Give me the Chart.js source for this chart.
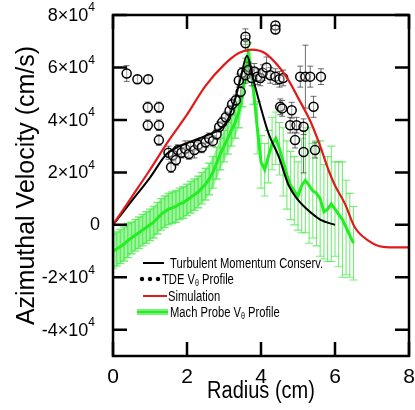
<!DOCTYPE html>
<html>
<head>
<meta charset="utf-8">
<script src="https://cdn.jsdelivr.net/npm/chart.js@4.4.0/dist/chart.umd.min.js"></script>
<style>
  html, body { margin: 0; padding: 0; background: #fff; }
</style>
</head>
<body>
<canvas id="myChart" width="415" height="410"></canvas>
<script>
// Radius in cm, velocities in units of 10^4 cm/s

// Mach probe V_theta profile (with error)
const machRadius = [
  0.0, 0.1, 0.2, 0.3, 0.4, 0.5, 0.6, 0.7, 0.8, 0.9,
  1.0, 1.1, 1.2, 1.3, 1.4, 1.5, 1.6, 1.7, 1.8, 1.9,
  2.0, 2.1, 2.2, 2.3, 2.4, 2.5, 2.6, 2.7, 2.8, 2.9,
  3.0, 3.1, 3.2, 3.3, 3.4,
  3.5, 3.6, 3.65, 3.7, 3.8,
  3.9, 4.0, 4.1, 4.2, 4.3, 4.4, 4.5,
  4.6, 4.7, 4.8, 4.9, 5.0,
  5.1, 5.2, 5.3, 5.4, 5.5, 5.6, 5.7, 5.8, 5.9, 6.0, 6.1, 6.2, 6.3, 6.4, 6.5
];
const machVel = [
  -1.0, -0.92, -0.83, -0.73, -0.6, -0.5, -0.4, -0.3, -0.2, -0.1,
  0.0, 0.1, 0.25, 0.4, 0.5, 0.6, 0.65, 0.7, 0.8, 0.85,
  0.95, 1.05, 1.15, 1.25, 1.4, 1.55, 1.75, 2.0, 2.35, 2.7,
  3.0, 3.3, 3.6, 3.9, 4.3,
  5.0, 5.9, 6.5, 6.2, 5.1,
  3.7, 2.4, 2.1, 2.6, 3.1, 3.3, 2.9,
  2.4, 1.9, 1.5, 1.3, 1.1,
  1.5, 1.7, 1.5, 1.3, 1.2, 1.0, 0.5, 0.6, 0.8, 0.6, 0.4, 0.2, -0.1, -0.4, -0.7
];
const machErr = [
  0.65, 0.65, 0.65, 0.65, 0.65, 0.6, 0.6, 0.6, 0.6, 0.6,
  0.6, 0.6, 0.6, 0.6, 0.6, 0.6, 0.6, 0.6, 0.6, 0.6,
  0.6, 0.6, 0.6, 0.6, 0.6, 0.6, 0.6, 0.6, 0.6, 0.6,
  0.6, 0.6, 0.6, 0.6, 0.6,
  0.5, 0.45, 0.45, 0.45, 0.5,
  1.0, 1.0, 1.0, 1.0, 1.0, 1.0, 1.0,
  1.3, 1.3, 1.3, 1.3, 1.3,
  1.8, 2.0, 2.2, 1.8, 2.0, 2.2, 1.8, 2.0, 2.2, 1.8, 2.0, 2.2, 1.8, 1.6, 1.4
];

// TDE V_theta profile
const tdeRadius = [
  0.37, 0.66, 0.95, 0.94, 1.24, 0.94, 1.24, 1.24,
  1.50, 1.57, 1.62, 1.70, 1.75, 1.85, 1.95, 2.05, 2.10, 2.20, 2.30, 2.40, 2.50, 2.60, 2.70,
  2.80, 2.87, 2.95, 3.05, 3.15, 3.22, 3.32, 3.40, 3.45, 3.49,
  3.58, 3.66, 3.75, 3.82, 3.90, 3.98, 4.05, 4.15, 4.25, 4.39, 4.50, 4.60,
  3.58, 3.58, 4.39, 4.39,
  4.52, 4.57, 4.83, 5.42, 4.79, 4.96, 5.15, 4.92, 5.15, 5.46,
  5.06, 5.20, 5.33, 5.62
];
const tdeVel = [
  5.77, 5.55, 5.55, 4.48, 4.48, 3.80, 3.80, 3.23,
  2.75, 2.20, 2.65, 2.47, 2.85, 2.75, 2.90, 2.70, 3.00, 2.85, 3.05, 2.95, 3.15, 3.30, 3.20,
  3.45, 3.73, 3.90, 4.10, 4.35, 4.60, 4.75, 5.50, 5.07, 5.80,
  5.70, 5.90, 5.60, 5.85, 5.65, 5.60, 5.80, 6.00, 5.70, 5.65, 5.55, 5.60,
  7.17, 6.92, 7.60, 7.45,
  4.50, 4.44, 4.37, 4.50, 3.80, 3.80, 3.74, 3.23, 2.78, 2.85,
  5.65, 5.65, 5.65, 5.65
];
const tdeErr = [
  0.3, 0.15, 0.15, 0.2, 0.2, 0.2, 0.2, 0.2,
  0.25, 0.2, 0.2, 0.2, 0.2, 0.2, 0.3, 0.2, 0.2, 0.3, 0.2, 0.2, 0.2, 0.2, 0.2,
  0.2, 0.2, 0.2, 0.2, 0.2, 0.2, 0.2, 0.25, 0.2, 0.2,
  0.3, 0.3, 0.3, 0.3, 0.3, 0.3, 0.3, 0.4, 0.3, 0.3, 0.3, 0.3,
  0.3, 0.3, 0.15, 0.15,
  0.3, 0.3, 0.3, 0.4, 0.3, 0.3, 0.3, 0.3, 0.8, 0.3,
  0.4, 1.2, 0.4, 0.3
];

// Simulation
const simRadius = [0, 0.5, 1.0, 1.5, 2.0, 2.5, 3.0, 3.4, 3.75, 4.1, 4.5, 4.75, 5.0, 5.35, 5.6, 5.82, 6.0, 6.27, 6.53, 6.9, 7.3, 7.7, 8.0];
const simVel = [0, 1.05, 2.1, 3.2, 4.2, 5.3, 6.1, 6.55, 6.68, 6.55, 6.0, 5.5, 4.85, 3.9, 3.0, 2.1, 1.5, 0.8, -0.08, -0.6, -0.84, -0.86, -0.86];

// Turbulent momentum conservation
const turbRadius = [0, 0.5, 1.0, 1.45, 1.8, 2.15, 2.6, 2.9, 3.1, 3.3, 3.45, 3.62, 3.8, 3.94, 4.2, 4.48, 4.75, 5.0, 5.2, 5.6, 6.0];
const turbVel = [0, 0.9, 1.8, 2.7, 3.0, 3.2, 3.45, 3.65, 4.0, 4.8, 5.6, 6.45, 5.5, 4.75, 3.5, 2.6, 1.5, 0.95, 0.65, 0.2, 0.0];

// Axis ticks
const xTicks = [0, 2, 4, 6, 8];
const yTicks = [-4, -2, 0, 2, 4, 6, 8];

const UNIT = 1e4;
const pts = (xs, ys) => xs.map((x, i) => ({ x: x, y: ys[i] * UNIT }));

// the dense inner part of the Mach probe profile gets a shaded error band
const bandIdx = machRadius.map((r, i) => i).filter(i => machRadius[i] < 3.85);
const bandUpper = bandIdx.map(i => ({ x: machRadius[i], y: (machVel[i] + machErr[i]) * UNIT }));
const bandLower = bandIdx.map(i => ({ x: machRadius[i], y: (machVel[i] - machErr[i]) * UNIT }));

const FONT = '"Liberation Sans", Arial, sans-serif';
Chart.defaults.font.family = FONT;
Chart.defaults.color = '#000';

// vertical error bars with caps, drawn just before the owning dataset
const errorBars = {
  id: 'errorBars',
  beforeDatasetDraw(chart, args) {
    const ds = chart.data.datasets[args.index];
    if (!ds.errors) return;
    const { ctx, chartArea, scales: { x, y } } = chart;
    const cap = ds.errorCap;
    ctx.save();
    ctx.beginPath();
    ctx.rect(chartArea.left, chartArea.top, chartArea.width, chartArea.height);
    ctx.clip();
    ctx.strokeStyle = ds.errorColor;
    ds.data.forEach((p, i) => {
      const e = ds.errors[i] * UNIT;
      const px = x.getPixelForValue(p.x);
      const top = y.getPixelForValue(p.y + e);
      const bot = y.getPixelForValue(p.y - e);
      ctx.lineWidth = ds.errorWidth(p.x);
      ctx.beginPath();
      ctx.moveTo(px, top); ctx.lineTo(px, bot);
      ctx.moveTo(px - cap, top); ctx.lineTo(px + cap, top);
      ctx.moveTo(px - cap, bot); ctx.lineTo(px + cap, bot);
      ctx.stroke();
    });
    ctx.restore();
  }
};

// box frame with inward ticks on all four sides, plus y labels as n x 10^4
const frame = {
  id: 'frame',
  afterDatasetsDraw(chart) {
    const { ctx, chartArea: a, scales: { x, y } } = chart;
    const len = 14;
    ctx.save();
    ctx.strokeStyle = '#000';
    ctx.lineWidth = 2.5;
    ctx.strokeRect(a.left, a.top, a.width, a.height);
    ctx.beginPath();
    xTicks.forEach(v => {
      const px = x.getPixelForValue(v);
      ctx.moveTo(px, a.bottom); ctx.lineTo(px, a.bottom - len);
      ctx.moveTo(px, a.top); ctx.lineTo(px, a.top + len);
    });
    yTicks.forEach(v => {
      const py = y.getPixelForValue(v * UNIT);
      ctx.moveTo(a.left, py); ctx.lineTo(a.left + len, py);
      ctx.moveTo(a.right, py); ctx.lineTo(a.right - len, py);
    });
    ctx.stroke();

    ctx.fillStyle = '#000';
    ctx.textBaseline = 'middle';
    ctx.textAlign = 'right';
    yTicks.forEach(v => {
      const py = y.getPixelForValue(v * UNIT);
      if (v === 0) {
        ctx.font = '18px ' + FONT;
        ctx.fillText('0', a.left - 13, py);
        return;
      }
      ctx.font = '12px ' + FONT;
      ctx.fillText('4', a.left - 18, py - 7);
      const sw = ctx.measureText('4').width;
      ctx.font = '18px ' + FONT;
      ctx.fillText(v + '\u00d710', a.left - 18 - sw, py + 1);
    });
    ctx.restore();
  }
};

// condensed text with an optional subscript piece, e.g. V + theta
function drawRich(ctx, parts, x, y, size, squeeze) {
  ctx.save();
  ctx.translate(x, y);
  ctx.scale(squeeze, 1);
  let cx = 0;
  parts.forEach(([txt, sub]) => {
    ctx.font = (sub ? Math.round(size * 0.62) : size) + 'px ' + FONT;
    ctx.fillText(txt, cx, sub ? size * 0.25 : 0);
    cx += ctx.measureText(txt).width;
  });
  ctx.restore();
}

// legend inside the plot and the x axis title
const insideLegend = {
  id: 'insideLegend',
  afterDraw(chart) {
    const { ctx, chartArea: a } = chart;
    const x0 = a.left + 27;
    const rows = [a.top + 248, a.top + 264, a.top + 281, a.top + 297];
    ctx.save();
    ctx.fillStyle = '#000';
    ctx.textBaseline = 'middle';

    ctx.strokeStyle = '#000';
    ctx.lineWidth = 2;
    ctx.beginPath(); ctx.moveTo(x0 + 3, rows[0]); ctx.lineTo(x0 + 24, rows[0]); ctx.stroke();
    drawRich(ctx, [['Turbulent Momentum Conserv.']], x0 + 30, rows[0] + 1, 14, 0.8);

    [x0 + 2, x0 + 10, x0 + 18].forEach(cx => {
      ctx.beginPath(); ctx.arc(cx, rows[1], 2.2, 0, Math.PI * 2); ctx.fill();
    });
    drawRich(ctx, [['TDE V'], ['\u03b8', true], [' Profile']], x0 + 22, rows[1] + 1, 14, 0.8);

    ctx.strokeStyle = '#e01b1b';
    ctx.beginPath(); ctx.moveTo(x0 + 3, rows[2]); ctx.lineTo(x0 + 27, rows[2]); ctx.stroke();
    drawRich(ctx, [['Simulation']], x0 + 28, rows[2] + 1, 14, 0.8);

    ctx.strokeStyle = 'rgba(90,235,90,0.8)';
    ctx.lineWidth = 6;
    ctx.beginPath(); ctx.moveTo(x0 - 3, rows[3]); ctx.lineTo(x0 + 28, rows[3]); ctx.stroke();
    ctx.strokeStyle = '#22ee22';
    ctx.lineWidth = 2;
    ctx.beginPath(); ctx.moveTo(x0 - 3, rows[3]); ctx.lineTo(x0 + 28, rows[3]); ctx.stroke();
    drawRich(ctx, [['Mach Probe V'], ['\u03b8', true], [' Profile']], x0 + 30, rows[3] + 1, 14, 0.8);

    // x axis title, centred under the plot
    ctx.font = '23px ' + FONT;
    const t = 'Radius (cm)';
    const w = ctx.measureText(t).width * 0.87;
    drawRich(ctx, [[t]], (a.left + a.right) / 2 - w / 2, 392, 23, 0.87);
    ctx.restore();
  }
};

const ctx = document.getElementById('myChart').getContext('2d');

new Chart(ctx, {
  type: 'scatter',
  data: {
    datasets: [
      {
        label: 'Simulation',
        data: pts(simRadius, simVel),
        showLine: true,
        borderColor: '#e01b1b',
        borderWidth: 2.2,
        pointRadius: 0,
        cubicInterpolationMode: 'monotone'
      },
      {
        label: 'Turbulent Momentum Conserv.',
        data: pts(turbRadius, turbVel),
        showLine: true,
        borderColor: '#000',
        borderWidth: 2,
        pointRadius: 0,
        cubicInterpolationMode: 'monotone'
      },
      {
        label: 'TDE V\u03b8 Profile',
        data: pts(tdeRadius, tdeVel),
        errors: tdeErr,
        errorColor: 'rgba(60,60,60,0.75)',
        errorWidth: () => 1,
        errorCap: 3,
        pointStyle: 'circle',
        pointRadius: 4.5,
        borderColor: '#000',
        borderWidth: 1.5,
        backgroundColor: 'rgba(255,255,255,0.35)'
      },
      {
        label: 'Mach Probe V\u03b8 Profile',
        data: pts(machRadius, machVel),
        errors: machErr,
        errorColor: 'rgba(70,232,70,0.75)',
        errorWidth: r => r < 3.85 ? 1.4 : 1.1,
        errorCap: 4,
        showLine: true,
        borderColor: '#22ee22',
        borderWidth: 3,
        pointRadius: 0,
        tension: 0
      },
      {
        label: 'band upper',
        data: bandUpper,
        showLine: true,
        borderWidth: 0,
        pointRadius: 0,
        fill: false
      },
      {
        label: 'band lower',
        data: bandLower,
        showLine: true,
        borderWidth: 0,
        pointRadius: 0,
        fill: '-1',
        backgroundColor: 'rgba(95,236,95,0.6)'
      }
    ]
  },
  options: {
    responsive: false,
    animation: false,
    layout: { padding: { top: 15, right: 4, left: 0, bottom: 0 } },
    plugins: {
      legend: { display: false },
      tooltip: { enabled: false }
    },
    scales: {
      x: {
        type: 'linear',
        min: 0,
        max: 8,
        grid: { display: false, drawTicks: false },
        border: { display: false },
        afterBuildTicks: s => { s.ticks = xTicks.map(v => ({ value: v })); },
        afterFit: s => { s.height = 54; s.paddingLeft = 0; s.paddingRight = 0; },
        ticks: { padding: 9, font: { size: 21 }, callback: v => String(v) }
      },
      y: {
        type: 'linear',
        min: -5 * UNIT,
        max: 8 * UNIT,
        grid: { display: false, drawTicks: false },
        border: { display: false },
        afterBuildTicks: s => { s.ticks = yTicks.map(v => ({ value: v * UNIT })); },
        afterFit: s => { s.width = 113; s.paddingTop = 0; s.paddingBottom = 0; },
        ticks: { display: false },
        title: {
          display: true,
          text: 'Azimuthal Velocity (cm/s)',
          font: { size: 25 },
          padding: { top: 12, bottom: 0 }
        }
      }
    }
  },
  plugins: [errorBars, frame, insideLegend]
});
</script>
</body>
</html>
